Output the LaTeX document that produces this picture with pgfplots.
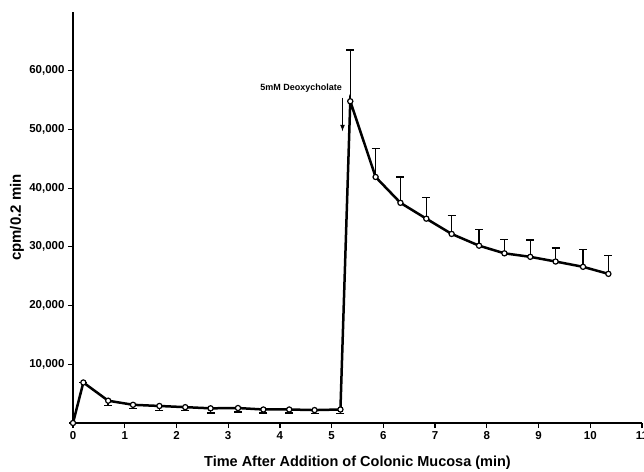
\documentclass[border=0pt]{standalone}
\usepackage{fontspec}
\setmainfont{Liberation Sans}
\usepackage{pgfplots}
\usepackage{pgfplotstable}
\pgfplotsset{compat=1.18}
\usetikzlibrary{calc}
\pgfplotstableread{
x y em
0 0 0
0.20 6900 0
0.68 3800 800
1.16 3100 600
1.67 2900 800
2.17 2700 600
2.66 2500 800
3.19 2550 700
3.68 2300 600
4.18 2300 600
4.67 2200 600
5.17 2300 700
}\pre
\pgfplotstableread{
x y ep
5.36 54800 8700
5.85 41900 4900
6.33 37500 4400
6.83 34800 3600
7.32 32200 3100
7.85 30200 2800
8.34 28900 2400
8.84 28300 2900
9.33 27500 2300
9.86 26600 2900
10.35 25400 3100
}\post
\pgfplotstableread{
x y
0 0
0.20 6900
0.68 3800
1.16 3100
1.67 2900
2.17 2700
2.66 2500
3.19 2550
3.68 2300
4.18 2300
4.67 2200
5.17 2300
5.36 54800
5.85 41900
6.33 37500
6.83 34800
7.32 32200
7.85 30200
8.34 28900
8.84 28300
9.33 27500
9.86 26600
10.35 25400
}\all
\begin{document}
\begin{tikzpicture}
\begin{axis}[name=ax, scale only axis, width=569pt, height=411pt,
  xmin=0, xmax=11, ymin=0, ymax=70000,
  axis x line=bottom, axis y line=left,
  axis line style={-, line width=1.6pt},
  xtick={0,...,11}, ytick={10000,20000,...,60000},
  scaled y ticks=false,
  /pgf/number format/.cd, 1000 sep={,}, assume math mode=true, /pgfplots/.cd,
  tick align=outside, major tick length=5pt,
  tick style={line width=1.2pt, black},
  ticklabel style={font=\fontsize{11.5}{13}\selectfont\bfseries},
  xlabel={Time After Addition of Colonic Mucosa (min)},
  ylabel={cpm/0.2 min},
  xlabel style={font=\fontsize{14.5}{17}\selectfont\bfseries, at={(axis description cs:0.5,0)}, anchor=center, yshift=-40pt},
  ylabel style={font=\fontsize{15}{18}\selectfont\bfseries, at={(axis description cs:0,0.5)}, anchor=center, yshift=56pt},
  clip=false]
\addplot[only marks, mark=none, forget plot,
  error bars/.cd, y dir=minus, y explicit,
  error bar style={black, line width=1.4pt},
  error mark options={rotate=90, mark size=4pt, line width=1.4pt, black}]
  table[x=x, y=y, y error minus=em] {\pre};
\addplot[only marks, mark=none, forget plot,
  error bars/.cd, y dir=plus, y explicit,
  error bar style={black, line width=1.4pt},
  error mark options={rotate=90, mark size=4pt, line width=1.4pt, black}]
  table[x=x, y=y, y error plus=ep] {\post};
\addplot[black, line width=2.5pt, mark=*, mark size=2.6pt,
  mark options={line width=1.2pt, fill=white, draw=black, solid}]
  table[x=x, y=y] {\all};
\node[anchor=base east, font=\fontsize{9}{10}\selectfont\bfseries, inner sep=0pt] at (axis cs:5.2,56600) {5mM Deoxycholate};
\draw[-latex, line width=1.2pt] (axis cs:5.21,55400) -- (axis cs:5.21,49700);
\end{axis}
\pgfresetboundingbox
\path[use as bounding box] ($(ax.south west)+(-73pt,-48pt)$) rectangle ($(ax.north east)+(2pt,12pt)$);
\end{tikzpicture}
\end{document}
